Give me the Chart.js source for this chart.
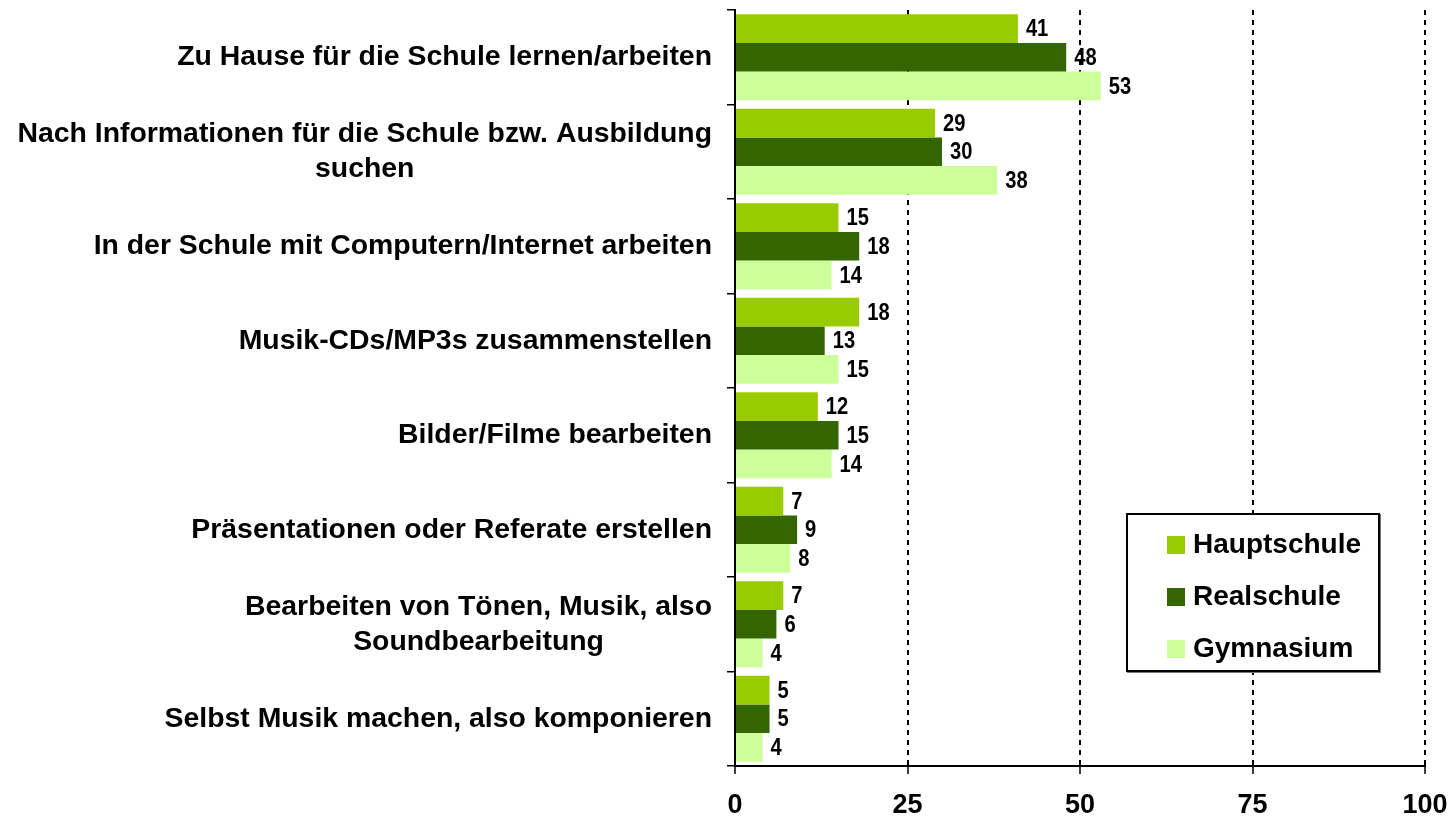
<!DOCTYPE html>
<html lang="de">
<head>
<meta charset="utf-8">
<title>Computernutzung nach Schulform</title>
<script src="https://cdn.jsdelivr.net/npm/chart.js@4/dist/chart.umd.min.js"></script>
<style>
  html, body { margin: 0; padding: 0; background: #fff; }
  #wrap { position: relative; width: 1453px; height: 820px; }
  #legende {
    position: absolute; left: 1126px; top: 513px; width: 250px; height: 155px;
    border: 2px solid #000; box-shadow: 1px 1px 0 #777; background: #fff;
    font: bold 28px "Liberation Sans", Arial, sans-serif; color: #000;
  }
  #legende div { position: absolute; left: 39px; height: 30px; line-height: 30px; white-space: nowrap; }
  #legende span { display: inline-block; width: 18px; height: 18px; margin-right: 8px; vertical-align: -1px; }
</style>
</head>
<body>
<div id="wrap">
  <canvas id="chart" width="1453" height="820"></canvas>
  <div id="legende"></div>
</div>
<script>
const kategorien = [
  'Zu Hause für die Schule lernen/arbeiten',
  ['Nach Informationen für die Schule bzw. Ausbildung', 'suchen'],
  'In der Schule mit Computern/Internet arbeiten',
  'Musik-CDs/MP3s zusammenstellen',
  'Bilder/Filme bearbeiten',
  'Präsentationen oder Referate erstellen',
  ['Bearbeiten von Tönen, Musik, also', 'Soundbearbeitung'],
  'Selbst Musik machen, also komponieren'
];
const hauptschule = [41, 29, 15, 18, 12, 7, 7, 5];
const realschule = [48, 30, 18, 13, 15, 9, 6, 5];
const gymnasium = [53, 38, 14, 15, 14, 8, 4, 4];
const xTicks = [0, 25, 50, 75, 100];

const serien = [
  { label: 'Hauptschule', data: hauptschule, farbe: '#99cc00' },
  { label: 'Realschule', data: realschule, farbe: '#336600' },
  { label: 'Gymnasium', data: gymnasium, farbe: '#ccff99' }
];

const schrift = '"Liberation Sans", Arial, sans-serif';

// Kategorienbeschriftung: Block rechtsbündig, Zeilen innerhalb des Blocks zentriert
const kategorienText = {
  id: 'kategorienText',
  afterDraw(chart) {
    const y = chart.scales.y;
    const ctx = chart.ctx;
    const rechts = y.right - 8 - 15;
    ctx.save();
    ctx.font = 'bold 28.4px ' + schrift;
    ctx.fillStyle = '#000';
    ctx.textAlign = 'center';
    ctx.textBaseline = 'middle';
    chart.data.labels.forEach((lab, i) => {
      const zeilen = Array.isArray(lab) ? lab : [lab];
      const breite = Math.max(...zeilen.map(z => ctx.measureText(z).width));
      const mitte = y.getPixelForTick(i);
      zeilen.forEach((z, j) => {
        ctx.fillText(z, rechts - breite / 2, mitte + (j - (zeilen.length - 1) / 2) * 35);
      });
    });
    ctx.restore();
  }
};

// Werte rechts neben den Balken, schmal gesetzt
const wertText = {
  id: 'wertText',
  afterDatasetsDraw(chart) {
    const ctx = chart.ctx;
    const schmal = 0.84;
    ctx.save();
    ctx.font = 'bold 24px ' + schrift;
    ctx.fillStyle = '#000';
    ctx.textAlign = 'left';
    ctx.textBaseline = 'middle';
    chart.data.datasets.forEach((ds, d) => {
      chart.getDatasetMeta(d).data.forEach((bar, i) => {
        ctx.save();
        ctx.translate(bar.x + 8, bar.y + 1);
        ctx.scale(schmal, 1);
        ctx.fillText(String(ds.data[i]), 0, 0);
        ctx.restore();
      });
    });
    ctx.restore();
  }
};

new Chart(document.getElementById('chart'), {
  type: 'bar',
  data: {
    labels: kategorien,
    datasets: serien.map(s => ({
      label: s.label,
      data: s.data,
      backgroundColor: s.farbe,
      borderWidth: 0,
      barPercentage: 1.0,
      categoryPercentage: 0.91
    }))
  },
  options: {
    indexAxis: 'y',
    responsive: false,
    animation: false,
    layout: { padding: { top: 10, right: 28, left: 0, bottom: 0 } },
    plugins: {
      legend: { display: false },
      tooltip: { enabled: true }
    },
    scales: {
      x: {
        min: 0,
        max: 100,
        afterBuildTicks: (scale) => { scale.ticks = xTicks.map(v => ({ value: v })); },
        afterFit: (scale) => {
          scale.height = 54;
          scale.paddingLeft = 0;
          scale.paddingRight = 0;
        },
        grid: {
          color: (c) => (c.tick && c.tick.value === 0 ? 'rgba(0,0,0,0)' : '#000'),
          lineWidth: 2,
          tickColor: '#000',
          tickLength: 8,
          tickWidth: 1.5
        },
        border: { color: '#000', width: 2, dash: [5, 5] },
        ticks: {
          color: '#000',
          padding: 15,
          font: { family: schrift, size: 27, weight: 'bold' }
        }
      },
      y: {
        afterFit: (scale) => { scale.width = 735; },
        grid: {
          drawOnChartArea: false,
          color: '#000',
          tickLength: 8,
          lineWidth: 1.5
        },
        border: { color: '#000', width: 2 },
        ticks: { display: false }
      }
    }
  },
  plugins: [kategorienText, wertText]
});

// Legende als Kasten unten rechts
const legende = document.getElementById('legende');
serien.forEach((s, i) => {
  const zeile = document.createElement('div');
  zeile.style.top = (14 + i * 52) + 'px';
  const kasten = document.createElement('span');
  kasten.style.background = s.farbe;
  zeile.appendChild(kasten);
  zeile.appendChild(document.createTextNode(s.label));
  legende.appendChild(zeile);
});
</script>
</body>
</html>
